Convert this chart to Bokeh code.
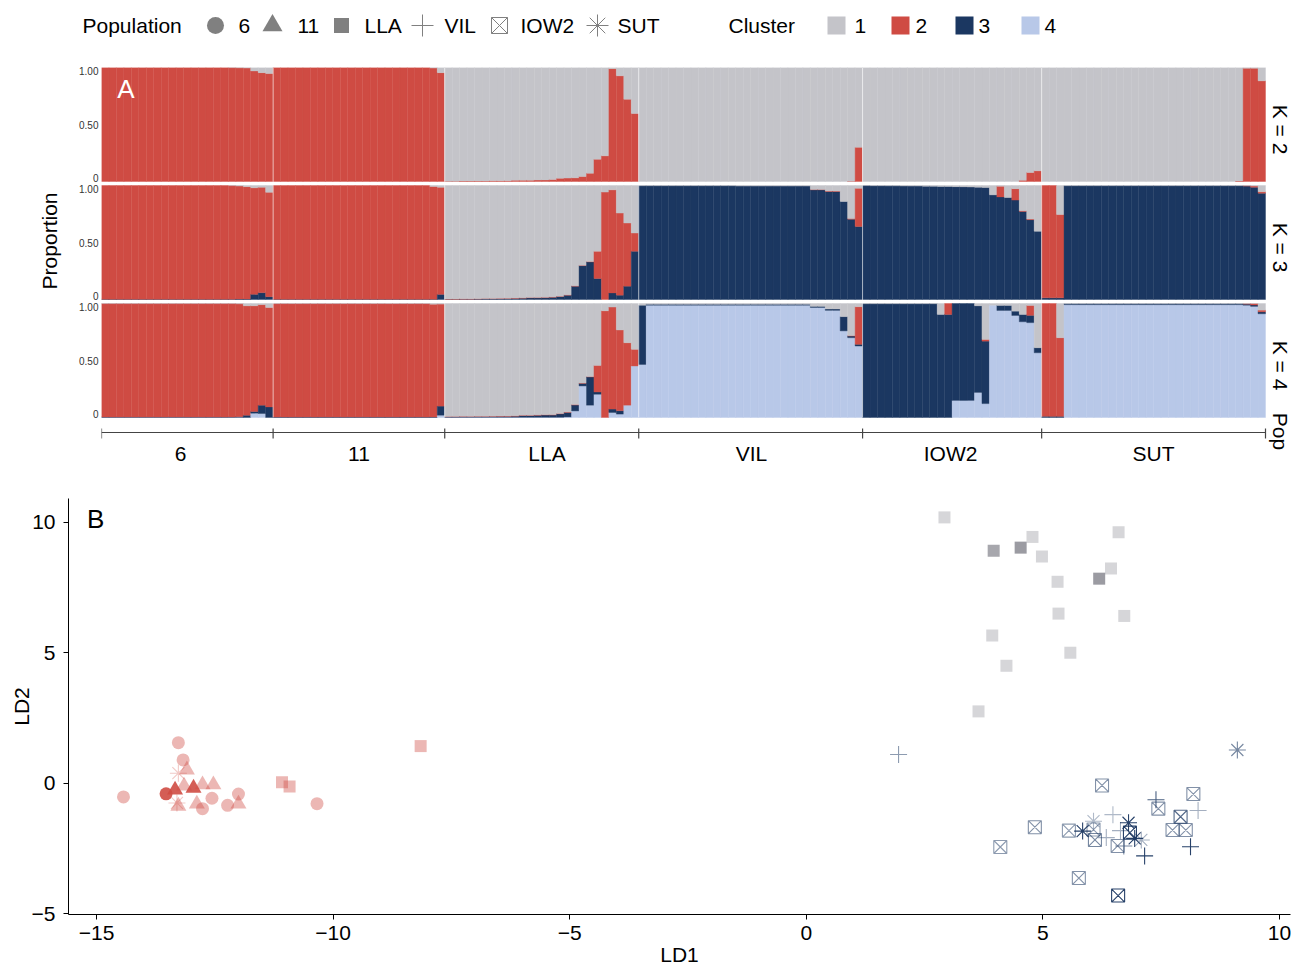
import math
from bokeh.plotting import figure
from bokeh.models import (Range1d, FixedTicker, LinearAxis, Label, ColumnDataSource, Title)
from bokeh.embed import file_html
from bokeh.resources import INLINE
from bokeh.core.properties import value

FONT = "Liberation Sans"
FS = "21px"
W = 1294

# ---------------- data ----------------
POPULATIONS = ["6", "11", "LLA", "VIL", "IOW2", "SUT"]
POP_SIZES = [23, 23, 26, 30, 24, 30]
CLUSTERS = ["1", "2", "3", "4"]
CLUSTER_COLORS = ["#C4C4C9", "#CF4B43", "#1B3761", "#B8C8E8"]
K_VALUES = [2, 3, 4]

# K = 2 : membership in cluster 2 (cluster 1 = remainder)
K2_C2 = ([1, 1, 1, 1, 1, 1, 1, 1, 1, 1, 1, 1, 1, 1, 1, 1, 1, 0.999, 0.997, 0.995, 0.97, 0.955, 0.947]
         + [1, 1, 1, 1, 1, 1, 1, 1, 1, 1, 1, 1, 1, 1, 1, 1, 1, 1, 1, 1, 1, 0.995, 0.955]
         + [0.003, 0.003, 0.004, 0.004, 0.005, 0.005, 0.006, 0.006, 0.007, 0.011, 0.012, 0.012, 0.013,
            0.014, 0.018, 0.028, 0.03, 0.032, 0.044, 0.073, 0.196, 0.225, 0.99, 0.927, 0.722, 0.596]
         + [0, 0, 0, 0, 0, 0, 0, 0, 0, 0, 0, 0, 0, 0, 0, 0, 0, 0, 0, 0, 0, 0, 0, 0, 0, 0, 0, 0, 0.003, 0.30]
         + [0, 0, 0, 0, 0, 0, 0, 0, 0, 0, 0, 0, 0, 0, 0, 0, 0, 0, 0, 0, 0, 0.01, 0.08, 0.094]
         + [0, 0, 0, 0, 0, 0, 0, 0, 0, 0, 0, 0, 0, 0, 0, 0, 0, 0, 0, 0, 0, 0, 0, 0, 0, 0, 0.005, 0.994, 0.994, 0.883])

# K = 3 : clusters 2 and 3 (cluster 1 = remainder)
K3_C2 = ([0.998] * 17 + [0.996, 0.99, 0.985, 0.935, 0.925, 0.915]
         + [0.998] * 21 + [0.99, 0.94]
         + [0.003] * 20 + [0.239, 0.942, 0.904, 0.72, 0.554, 0.16]
         + [0] * 23 + [0.004, 0.004, 0.004, 0.004, 0.0, 0.006, 0.335]
         + [0] * 18 + [0.093, 0.0, 0.10, 0.006, 0.006, 0.0]
         + [0.985, 0.985, 0.73] + [0] * 24 + [0.003, 0.01, 0.012])
K3_C3 = ([0.002] * 17 + [0.003, 0.005, 0.005, 0.045, 0.06, 0.025]
         + [0.002] * 22 + [0.045]
         + [0.002, 0.002, 0.003, 0.003, 0.004, 0.006, 0.006, 0.007, 0.008, 0.01, 0.012, 0.015, 0.015,
            0.016, 0.02, 0.026, 0.038, 0.117, 0.297, 0.33, 0.184, 0.0, 0.058, 0.038, 0.117, 0.423]
         + [0.998] * 13 + [0.995] * 10 + [0.962, 0.962, 0.947, 0.947, 0.86, 0.705, 0.64]
         + [0.999, 0.998, 0.998, 0.997, 0.997, 0.996, 0.995, 0.995, 0.994, 0.993, 0.992, 0.991, 0.99,
            0.989, 0.987, 0.985, 0.983, 0.918, 0.90, 0.895, 0.872, 0.773, 0.70, 0.598]
         + [0.015, 0.015, 0.015] + [0.998] * 24 + [0.995, 0.985, 0.933])

# K = 4 : clusters 2, 3 and 4 (cluster 1 = remainder)
K4_C2 = ([0.995] * 17 + [0.994, 0.99, 0.96, 0.927, 0.882, 0.872]
         + [0.995] * 21 + [0.99, 0.895]
         + [0.003] * 20 + [0.233, 0.936, 0.895, 0.708, 0.548, 0.146]
         + [0] * 28 + [0.003, 0.33]
         + [0] * 11 + [0.096, 0, 0, 0, 0, 0.015, 0, 0, 0, 0, 0, 0.087, 0]
         + [0.99, 0.99, 0.69] + [0] * 24 + [0.003, 0.012, 0.015])
K4_C3 = ([0.002] * 17 + [0.003, 0.005, 0.02, 0.015, 0.073, 0.093]
         + [0.003] * 22 + [0.08]
         + [0.004, 0.004, 0.005, 0.005, 0.006, 0.006, 0.007, 0.008, 0.008, 0.01, 0.015, 0.015, 0.018,
            0.02, 0.02, 0.03, 0.04, 0.052, 0.023, 0.248, 0.02, 0.0, 0.03, 0.03, 0.0, 0.0]
         + [0.52] + [0.008] * 22 + [0.01, 0.01, 0.012, 0.012, 0.125, 0.015, 0.015]
         + [0.998] * 10 + [0.904, 0.904, 0.85, 0.85, 0.85, 0.76, 0.548, 0.0, 0.044, 0.044, 0.038,
                           0.064, 0.064, 0.044]
         + [0.01, 0.01, 0.01] + [0.008] * 24 + [0.01, 0.012, 0.017])
K4_C4 = ([0.002] * 19 + [0.0, 0.038, 0.035, 0.0]
         + [0.001] * 22 + [0.02]
         + [0.002] * 16 + [0.005, 0.058, 0.277, 0.108, 0.204, 0.0, 0.044, 0.03, 0.108, 0.452]
         + [0.465] + [0.985] * 22 + [0.965, 0.965, 0.94, 0.94, 0.76, 0.70, 0.627]
         + [0] * 12 + [0.15, 0.15, 0.15, 0.22, 0.122, 0.985, 0.939, 0.939, 0.895, 0.84, 0.832, 0.568]
         + [0, 0, 0] + [0.99] * 24 + [0.985, 0.975, 0.91])

# Panel B: discriminant analysis scores
LD1 = [-13.27, -13.17, -13.27, -13.09, -12.76, -12.53, -14.43, -13.53, -13.34, -12.95, -13.15, -12.56,
       -12.00, -12.23, -12.76, -12.88, -12.00, -13.27, -13.30, -11.08, -10.92, -8.15, -10.34,
       2.92, 4.78, 3.96, 4.53, 4.98, 6.60, 6.44, 6.19, 5.31, 5.33, 6.72, 3.93, 5.58, 4.23, 3.64,
       1.95, 7.39, 8.28, 8.12, 7.15, 6.48, 6.34, 6.71, 6.64,
       6.25, 8.18, 7.44, 7.91, 7.74, 8.02, 4.83, 4.10, 5.55, 6.07, 6.10, 6.84, 6.58, 5.76, 6.59,
       9.11, 5.84, 6.07, 6.81, 6.94, 7.08]
LD2 = [1.55, 0.89, 0.38, 0.51, -0.06, -0.06, -0.53, -0.41, -0.26, -0.19, -0.11, -0.58,
       -0.42, -0.85, -0.98, -0.80, -0.80, -0.88, -0.76, 0.03, -0.13, 1.42, -0.79,
       10.19, 9.44, 8.91, 9.03, 8.69, 9.62, 8.23, 7.84, 7.72, 6.50, 6.41, 5.66, 5.00, 4.50, 2.75,
       1.10, -0.64, -1.05, -2.44, -2.79, -1.21, -2.09, -2.41, -1.82,
       -0.09, -0.42, -0.98, -1.29, -1.80, -1.80, -1.69, -2.45, -1.82, -1.78, -2.18, -1.90, -2.41, -3.64, -4.31,
       1.27, -1.84, -1.46, -1.52, -2.12, -2.18]
POINT_POP = (["6", "6", "SUT", "11", "11", "11", "6", "6", "11", "11", "11", "6",
              "6", "6", "6", "11", "11", "11", "SUT", "LLA", "LLA", "LLA", "6"]
             + ["LLA"] * 15
             + ["VIL"] * 9
             + ["IOW2"] * 15
             + ["SUT"] * 6)
POINT_CLUSTER = [2] * 23 + [1] * 15 + [3] * 30
POINT_ALPHA = [0.4, 0.4, 0.3, 0.4, 0.4, 0.4, 0.4, 0.9, 0.9, 0.9, 0.4, 0.4,
               0.4, 0.4, 0.4, 0.4, 0.4, 0.4, 0.3, 0.4, 0.4, 0.4, 0.4,
               0.35, 0.35, 0.75, 0.85, 0.35, 0.35, 0.35, 0.85, 0.35, 0.35, 0.35, 0.35, 0.35, 0.35, 0.35,
               0.5, 0.8, 0.4, 0.95, 0.95, 0.35, 0.4, 0.6, 0.4,
               0.55, 0.55, 0.55, 0.75, 0.55, 0.55, 0.55, 0.5, 0.5, 0.5, 0.6, 0.95, 0.55, 0.55, 0.95,
               0.6, 0.95, 0.35, 0.95, 0.95, 0.4]

# ---------------- styling / layout constants ----------------
POINT_COLORS = {1: "#8A8A92", 2: "#CF4B43", 3: "#1B3761"}
MARKERS = {"6": "circle", "11": "triangle", "LLA": "square", "VIL": "cross", "IOW2": "square_x", "SUT": "asterisk"}
FILLED = {"6", "11", "LLA"}
SIZES = {"6": 13, "11": 16, "LLA": 12, "VIL": 17, "IOW2": 13, "SUT": 17}
LEGEND_SIZES = {"6": 17, "11": 20, "LLA": 15, "VIL": 22, "IOW2": 16, "SUT": 22}
LEGEND_GREY = "#808080"
AXIS_GREY = "#444444"
LEG_Y = 25
LEG_TITLE_X = [82, 728]
POP_KEY_X = [215, 272, 341, 422, 499, 597]
POP_LABEL_X = [238, 297, 364, 444, 520, 617]
CL_KEY_X = [836, 900, 964, 1030]
CL_LABEL_X = [854, 915, 978, 1044]
POP_LABEL_POS = [10.6, 34.5, 59.7, 87.1, 113.8, 141.0]   # label anchors along the individual axis

N = sum(POP_SIZES)
BOUNDS = [0]
for s in POP_SIZES:
    BOUNDS.append(BOUNDS[-1] + s)

PX_PER_IND = 1164 / N            # horizontal scale of panel A
PX_PER_UNIT = 114.0              # vertical scale of one K row
GAP = 4 / PX_PER_UNIT
Y_AXIS = -15 / PX_PER_UNIT       # population axis line
Y_BOTTOM = -51 / PX_PER_UNIT     # bottom of panel A drawing area
X_RIGHT = N + 29 / PX_PER_IND    # strip-label margin kept inside the frame
STRIP_X = N + 15 / PX_PER_IND
K_DATA = {2: {2: K2_C2}, 3: {2: K3_C2, 3: K3_C3}, 4: {2: K4_C2, 3: K4_C3, 4: K4_C4}}


def base_of(K):
    return (4 - K) * (1 + GAP)


def txt(fig, xs, ys, texts, size=FS, color="black", align="left", angle=0.0):
    fig.text(x=xs, y=ys, text=texts, text_font=value(FONT), text_font_size=value(size),
             text_color=color, text_baseline="middle", text_align=align, angle=angle)


# ---------------- legend strip ----------------
pL = figure(width=W, height=50, x_range=Range1d(0, W), y_range=Range1d(0, 50),
            x_axis_location=None, y_axis_location=None, min_border=0,
            output_backend="svg", toolbar_location=None)
pL.grid.visible = False
pL.outline_line_color = None
txt(pL, LEG_TITLE_X, [LEG_Y, LEG_Y], ["Population", "Cluster"])
for pop, kx in zip(POPULATIONS, POP_KEY_X):
    if pop in FILLED:
        pL.scatter(x=[kx], y=[LEG_Y], marker=MARKERS[pop], size=LEGEND_SIZES[pop],
                   fill_color=LEGEND_GREY, line_color=None)
    else:
        pL.scatter(x=[kx], y=[LEG_Y], marker=MARKERS[pop], size=LEGEND_SIZES[pop],
                   fill_color=None, line_color=LEGEND_GREY, line_width=1)
txt(pL, POP_LABEL_X, [LEG_Y] * len(POPULATIONS), POPULATIONS)
pL.scatter(x=CL_KEY_X, y=[LEG_Y] * len(CLUSTERS), marker="square", size=18,
           fill_color=CLUSTER_COLORS, line_color=None)
txt(pL, CL_LABEL_X, [LEG_Y] * len(CLUSTERS), CLUSTERS)

# ---------------- panel A (structure bars + population axis) ----------------
pA = figure(width=W, height=418, x_range=Range1d(0, X_RIGHT), y_range=Range1d(Y_BOTTOM, base_of(2) + 1),
            x_axis_location=None, y_axis_location=None,
            min_border_left=101, min_border_right=0, min_border_top=17, min_border_bottom=0,
            output_backend="svg", toolbar_location=None)
pA.grid.visible = False
pA.outline_line_color = None

left, right, bottom, top, colors = [], [], [], [], []
for K in K_VALUES:
    b0 = base_of(K)
    for i in range(N):
        props = {c: K_DATA[K][c][i] for c in range(2, K + 1)}
        props[1] = max(0.0, 1.0 - sum(props.values()))
        y = b0
        for c in range(K, 0, -1):
            h = props[c]
            if h <= 0:
                continue
            left.append(i)
            right.append(i + 1)
            bottom.append(y)
            top.append(min(y + h, b0 + 1))
            colors.append(CLUSTER_COLORS[c - 1])
            y += h
srcA = ColumnDataSource(dict(left=left, right=right, bottom=bottom, top=top, color=colors))
pA.quad(left="left", right="right", bottom="bottom", top="top", fill_color="color",
        line_color="color", line_width=0.4, source=srcA)
for bnd in BOUNDS[1:-1]:
    pA.segment(x0=[bnd], y0=[0], x1=[bnd], y1=[base_of(2) + 1], line_color="white",
               line_alpha=0.6, line_width=1)

lt, lo = [], {}
for K in K_VALUES:
    b0 = base_of(K)
    for off, t in [(0.03, "0"), (0.5, "0.50"), (0.97, "1.00")]:
        lt.append(b0 + off)
        lo[b0 + off] = t
yax = LinearAxis(ticker=FixedTicker(ticks=lt, minor_ticks=[]), major_label_overrides=lo,
                 axis_line_color=None, major_tick_out=0, major_tick_in=0, minor_tick_out=0,
                 major_label_standoff=3, major_label_text_font=FONT, major_label_text_font_size="10px",
                 major_label_text_color="#333333")
pA.add_layout(yax, "left")
pA.add_layout(Title(text="Proportion", align="right", offset=125, standoff=31, text_font=FONT,
                    text_font_size=FS, text_font_style="normal", text_color="black"), "left")

# population axis (line, boundary ticks, labels)
pA.segment(x0=[BOUNDS[0]], y0=[Y_AXIS], x1=[BOUNDS[-1]], y1=[Y_AXIS], line_color=AXIS_GREY, line_width=1.2)
pA.segment(x0=BOUNDS, y0=[Y_AXIS + 4 / PX_PER_UNIT] * len(BOUNDS),
           x1=BOUNDS, y1=[Y_AXIS - 6 / PX_PER_UNIT] * len(BOUNDS), line_color=AXIS_GREY, line_width=1.2)
txt(pA, POP_LABEL_POS, [Y_AXIS - 21 / PX_PER_UNIT] * len(POPULATIONS), POPULATIONS, align="center")

# strip labels (K = ..) and "Pop"
strip_y = [base_of(K) + 0.5 - 5 / PX_PER_UNIT for K in K_VALUES] + [Y_AXIS + 1 / PX_PER_UNIT]
strip_t = ["K = %d" % K for K in K_VALUES] + ["Pop"]
txt(pA, [STRIP_X] * len(strip_t), strip_y, strip_t, align="center", angle=-math.pi / 2)
pA.add_layout(Label(x=2.1, y=base_of(2) + 0.81, text="A", text_baseline="middle", text_font=FONT,
                    text_font_size="26px", text_color="white"))

# ---------------- panel B ----------------
pB = figure(width=W, height=501, x_range=Range1d(-15.592, 10.233), y_range=Range1d(-5.038, 10.914),
            min_border_left=68, min_border_right=4, min_border_top=30, min_border_bottom=55,
            output_backend="svg", toolbar_location=None)
pB.grid.visible = False
pB.outline_line_color = None
for pop in POPULATIONS:
    idx = [i for i, p in enumerate(POINT_POP) if p == pop]
    src = ColumnDataSource(dict(x=[LD1[i] for i in idx], y=[LD2[i] for i in idx],
                                color=[POINT_COLORS[POINT_CLUSTER[i]] for i in idx],
                                alpha=[POINT_ALPHA[i] for i in idx]))
    if pop in FILLED:
        pB.scatter("x", "y", source=src, marker=MARKERS[pop], size=SIZES[pop],
                   fill_color="color", fill_alpha="alpha", line_color=None)
    else:
        pB.scatter("x", "y", source=src, marker=MARKERS[pop], size=SIZES[pop],
                   fill_color=None, line_color="color", line_alpha="alpha", line_width=1.1)

xt = [-15, -10, -5, 0, 5, 10]
yt = [-5, 0, 5, 10]
for ax, ticks, lab in [(pB.xaxis[0], xt, "LD1"), (pB.yaxis[0], yt, "LD2")]:
    ax.ticker = FixedTicker(ticks=ticks, minor_ticks=[])
    ax.major_label_overrides = {t: str(t).replace("-", "\u2212") for t in ticks}
    ax.axis_label = lab
    ax.axis_line_color = "black"
    ax.major_tick_line_color = "black"
    ax.major_tick_out = 5
    ax.major_tick_in = 0
    ax.minor_tick_out = 0
    ax.major_label_text_font = FONT
    ax.major_label_text_font_size = FS
    ax.major_label_text_color = "black"
    ax.axis_label_text_font = FONT
    ax.axis_label_text_font_size = FS
    ax.axis_label_text_font_style = "normal"
    ax.axis_label_text_color = "black"
pB.xaxis[0].major_label_standoff = 6
pB.xaxis[0].axis_label_standoff = 0
pB.yaxis[0].major_label_standoff = 8
pB.yaxis[0].axis_label_standoff = -4
pB.add_layout(Label(x=-15.2, y=10.13, text="B", text_baseline="middle", text_font=FONT,
                    text_font_size="26px", text_color="black"))

open("out.html", "w").write(file_html([pL, pA, pB], INLINE))
